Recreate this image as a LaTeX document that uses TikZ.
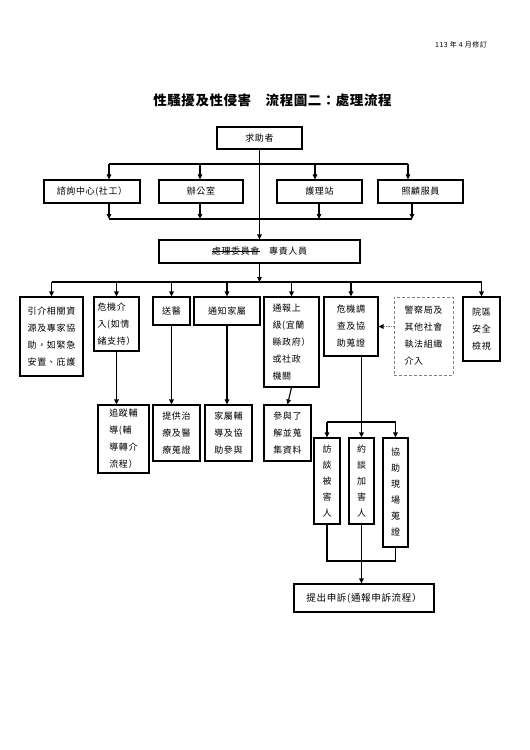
\documentclass[tikz,border=0pt]{standalone}
\usepackage{fontspec}
\usepackage{tikz}
\usetikzlibrary{arrows.meta}
\newfontfamily\cjk{Noto Sans CJK TC}[LetterSpace=7]
\newfontfamily\titlefont{Noto Sans CJK TC}[LetterSpace=4]
\newcommand{\boxfont}{\cjk\fontsize{9}{17}\selectfont}
\newcommand{\colfont}{\cjk\fontsize{9}{16}\selectfont}
\newcommand{\struck}[1]{\setbox0\hbox{#1}\rlap{\rule[0.36em]{\wd0}{0.8pt}}\box0}

\begin{document}
\begin{tikzpicture}[x=1pt,y=-1pt,
  box/.style={draw, line width=1.1pt, inner sep=0pt, align=left, font=\boxfont},
  col/.style={box, align=center, font=\colfont},
  wh/.style 2 args={minimum width=#1pt, minimum height=#2pt},
  wire/.style={line width=1.1pt},
  arr/.style={wire, -{Triangle[length=5pt,width=4.5pt]}},
  outside/.style={box, draw=gray, line width=0.6pt, densely dashed}]
\useasboundingbox[fill=white] (0,0) rectangle (530,750);
\node[font=\cjk\fontsize{7}{8}\selectfont] (date) at (461,45) {113 年 4 月修訂};
\node[font=\titlefont\fontsize{13.5}{15}\selectfont\bfseries] (title) at (272.5,100) {性騷擾及性侵害　流程圖二：處理流程};
\node[box, wh={85}{22}] (help) at (259.5,138) {求助者};
\node[box, wh={96}{23}] (consult) at (92,191.5) {諮詢中心(社工）};
\node[box, wh={84}{23}] (office) at (201,191.5) {辦公室};
\node[box, wh={85}{23}] (nurse) at (319.5,191.5) {護理站};
\node[box, wh={85}{23}] (carer) at (420.5,191.5) {照顧服員};
\node[box, wh={201}{23}] (duty) at (259.5,251.5) {\struck{處理委員會}　專責人員};
\foreach \x [count=\i] in {109,200,315,408} \coordinate (t\i) at (\x,164);
\foreach \x [count=\i] in {109,200,319,412} \coordinate (b\i) at (\x,219);
\draw[wire] (t1) -- (t4);
\draw[wire] (b1) -- (b4);
\foreach \i in {1,...,4} {
  \draw[arr] (t\i) -- (t\i |- consult.north);
  \draw[arr] (b\i |- consult.south) -- (b\i);
}
\draw[arr] (help.south) -- (duty.north);
\node[box, wh={63}{79}] (refer) at (51.5,336.5) {引介相關資\\源及專家協\\助，如緊急\\安置、庇護};
\node[box, wh={45}{54}] (crisis) at (116.5,324) {危機介\\入(如情\\緒支持）};
\node[box, wh={37}{28}] (hosp) at (171.5,311) {送醫};
\node[box, wh={66}{28}] (family) at (227,311) {通知家屬};
\node[box, wh={55}{90}] (report) at (291.5,342) {通報上\\級(宜蘭\\縣政府）\\或社政\\機關};
\node[box, wh={54}{59}] (invest) at (351,326.5) {危機調\\查及協\\助蒐證};
\node[outside, wh={59}{78}] (police) at (423.5,336) {警察局及\\其他社會\\執法組織\\介入};
\node[box, wh={37}{64}] (safety) at (481.5,329) {院區\\安全\\檢視};
\coordinate (bus) at (259.5,282);
\draw[arr] (duty.south) -- (bus);
\draw[wire] (refer.north |- bus) -- (safety.north |- bus);
\foreach \n in {refer,crisis,hosp,family,report,invest,safety}
  \draw[arr] (\n.north |- bus) -- (\n.north);
\draw[wire, draw=gray, densely dotted, -{Triangle[length=5pt,width=4.5pt,color=black]}] (police.west |- invest.east) -- (invest.east);
\node[box, wh={51}{68}] (follow) at (123.5,439) {追蹤輔\\導(輔\\導轉介\\流程）};
\node[box, wh={47}{56}] (treat) at (176.5,433) {提供治\\療及醫\\療蒐證};
\node[box, wh={47}{56}] (counsel) at (228.5,433) {家屬輔\\導及協\\助參與};
\node[box, wh={47}{56}] (gather) at (287.5,433) {參與了\\解並蒐\\集資料};
\draw[arr] (crisis.south) -- (crisis.south |- follow.north);
\draw[arr] (hosp.south) -- (hosp.south |- treat.north);
\draw[arr] (family.south) -- (family.south |- counsel.north);
\draw[arr] (report.south) -- (gather.north);
\node[col, wh={26}{86}] (victim) at (327,481) {訪\\談\\被\\害\\人};
\node[col, wh={25}{86}] (offender) at (361.5,481) {約\\談\\加\\害\\人};
\node[col, wh={25}{109}] (scene) at (395.5,492.5) {協\\助\\現\\場\\蒐\\證};
\coordinate (split) at (361.5,422);
\coordinate (merge) at (361.5,561);
\draw[arr] (offender.north |- invest.south) -- (offender.north);
\draw[wire] (split -| victim.north) -- (split -| scene.north);
\draw[arr] (split -| victim.north) -- (victim.north);
\draw[arr] (split -| scene.north) -- (scene.north);
\draw[wire] (victim.south) |- (merge) -| (scene.south);
\node[box, wh={140}{28}, font=\cjk\fontsize{9.5}{17}\selectfont] (complaint) at (364,598) {提出申訴(通報申訴流程）};
\draw[arr] (offender.south) -- (offender.south |- complaint.north);
\end{tikzpicture}
\end{document}
